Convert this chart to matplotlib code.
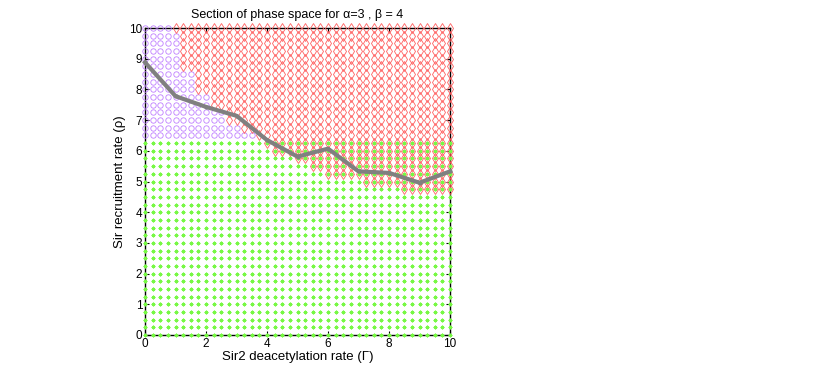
import numpy as np
import matplotlib
matplotlib.use('Agg')
import matplotlib.pyplot as plt

plt.rcParams['font.family'] = ['Liberation Sans', 'DejaVu Sans']

# grid of simulated parameter pairs
gamma_vals = np.arange(0, 10.01, 0.25)
rho_vals = np.arange(0, 10.01, 0.25)

# lowest rho that ends in the "red" state, one per gamma column (nan = none)
red_min = [np.nan, np.nan, np.nan, np.nan, 10.0, 8.75, 8.75, 8.0, 8.0, 7.5,
           7.5, 7.0, 7.0, 6.75, 6.75, 6.5, 6.25, 6.0, 6.0, 6.0,
           5.75, 5.75, 5.5, 5.5, 5.25, 5.25, 5.25, 5.25, 5.25, 5.0,
           5.0, 5.0, 5.0, 5.0, 4.75, 4.75, 4.75, 4.75, 4.75, 4.75, 4.75]
green_max = 6.25   # rho at or below this -> green state
purple_min = 6.5   # rho at or above this (and not red) -> purple state

# boundary curve
line_x = [0, 1, 2, 3, 4, 5, 6, 7, 8, 9, 10]
line_y = [8.88, 7.78, 7.43, 7.14, 6.35, 5.81, 6.07, 5.33, 5.28, 4.96, 5.33]

G, R = np.meshgrid(gamma_vals, rho_vals)
rmin = np.array(red_min)[None, :] * np.ones_like(R)
red = np.nan_to_num(rmin, nan=99) <= R + 1e-9
green = R <= green_max + 1e-9
purple = (R >= purple_min - 1e-9) & ~red

fig = plt.figure(figsize=(8.17, 3.75), dpi=100)
ax = fig.add_axes([0.1775, 0.1067, 0.3733, 0.8186])

ax.plot(G[green], R[green], linestyle='none', marker=(8, 2, 0), ms=3.0, mew=0.4,
        color='#77f844', clip_on=False, zorder=3)
ax.plot(G[purple], R[purple], linestyle='none', marker='o', ms=3.9, mew=0.6,
        mfc='none', mec='#c080ff', clip_on=False, zorder=3)
ax.plot(G[red], R[red], linestyle='none', marker='d', ms=5.6, mew=0.6,
        mfc='none', mec='#ff6060', clip_on=False, zorder=3)
ax.plot(line_x, line_y, color='#808080', lw=3, marker='.', ms=4, zorder=4,
        clip_on=False)

ax.set_xlim(0, 10)
ax.set_ylim(0, 10)
ax.set_xticks([0, 2, 4, 6, 8, 10])
ax.set_yticks(range(0, 11))
ax.tick_params(direction='in', top=True, right=True, labelsize=8.5, length=3,
               pad=2)
for s in ax.spines.values():
    s.set_linewidth(1.0)
ax.set_title('Section of phase space for α=3 , β = 4', fontsize=9, pad=7)
ax.set_xlabel('Sir2 deacetylation rate (Γ)', fontsize=9.5, labelpad=1)
ax.set_ylabel('Sir recruitment rate (ρ)', fontsize=9.5, labelpad=2)

fig.savefig('out.png', dpi=100)
